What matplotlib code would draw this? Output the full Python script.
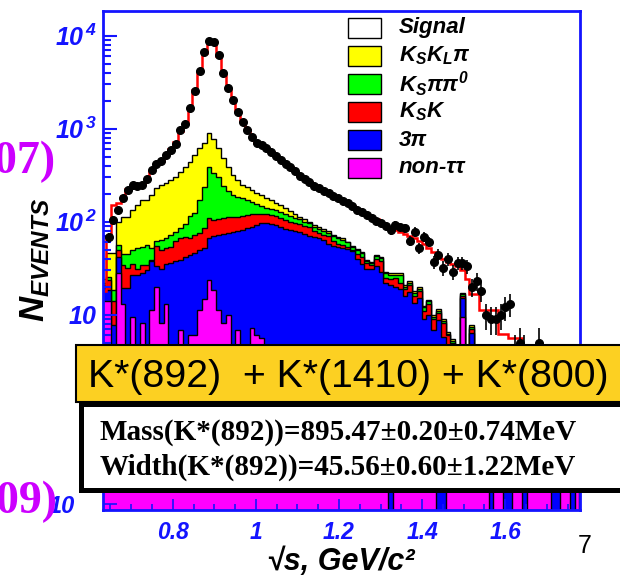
import matplotlib
matplotlib.use("Agg")
import matplotlib.pyplot as plt
import numpy as np
from matplotlib.patches import Rectangle
from matplotlib.ticker import LogLocator, MultipleLocator, NullFormatter, NullLocator

W, H = 620, 579

# histogram binning (GeV)
BIN_LO = 0.6285
BIN_W = 0.0115
N_BINS = 100

# data points (events per bin)
data = [
    0, 68, 104, 134, 181, 219, 248, 244, 248, 286,
    360, 417, 450, 521, 590, 680, 968, 1115, 1656, 2562,
    4170, 6730, 8830, 8490, 6200, 4000, 2720, 2036, 1525, 1190,
    970, 820, 706, 670, 620, 560, 505, 460, 420, 390,
    350, 310, 290, 270, 245, 228, 215, 202, 190, 178,
    168, 158, 146, 135, 126, 118, 110, 103, 97, 90,
    81, 92, 88, 85, 62, 78, 52, 69, 61, 37,
    44, 32, 40, 29, 36, 36, 33, 20, 23, 18,
    10, 9, 9, 10, 12, 13, 4, 5, 4, 3,
    2, 5, 2, 1, 2, 3, 3, 1, 1, 1,
]

# total MC (signal + backgrounds), red line
mc_total = [
    18, 70, 150, 158, 190, 225, 240, 245, 255, 290,
    350, 415, 455, 520, 600, 720, 950, 1150, 1700, 2600,
    4100, 6500, 8700, 8600, 6100, 3900, 2700, 2050, 1550, 1200,
    980, 830, 710, 670, 620, 565, 515, 470, 425, 390,
    350, 315, 292, 270, 250, 232, 217, 204, 191, 179,
    168, 158, 148, 137, 128, 120, 113, 106, 99, 92,
    86, 82, 78, 74, 70, 66, 62, 58, 52, 47,
    43, 40, 37, 35, 33, 30, 24, 16.5, 16.5, 11.3,
    11.3, 11.3, 11.3, 6.2, 6.2, 5.6, 5.6, 5.6, 4.5, 4,
    3.5, 3.2, 3, 2.8, 2.7, 2.6, 2.5, 2.5, 2.5, 2.5,
]

# cumulative background stack levels (top of each colour)
lvl_kskl = [
    24, 46, 46, 100, 113, 113, 134, 151, 171, 171,
    194, 228, 248, 259, 281, 305, 345, 391, 443, 521,
    615, 697, 891, 780, 620, 480, 390, 320, 280, 250,
    235, 220, 205, 194, 180, 170, 160, 150, 140, 130,
    120, 112, 106, 100, 92, 87, 83, 79, 72, 68,
    66, 61, 55, 51, 47, 39, 37, 44, 42, 29,
    28, 28, 28, 21, 23, 18, 20, 12.5, 14.5, 10,
    11.5, 9, 6.5, 5.5, 4.5, 17, 4.5, 7.8, 4.5, 2.4,
    2.4, 2.4, 2.4, 2.4, 2.4, 2.4, 2.4, 2.4, 2.4, 2.4,
    2.4, 2.4, 2.4, 2.4, 2.4, 2.4, 2.4, 2.4, 2.4, 2.4,
]
lvl_kspipi0 = [
    22, 25.6, 18.4, 56, 45, 45, 50, 52, 54, 56,
    52, 62, 64, 66, 72, 78, 85, 95, 115, 125,
    170, 238, 390, 330, 300, 245, 215, 195, 186, 178,
    170, 162, 155, 148, 142, 138, 132, 126, 120, 114,
    110, 106, 100, 96, 88, 84, 80, 76, 70, 66,
    64, 60, 54, 50, 46, 38, 36, 43, 41, 28,
    27, 27, 27, 20, 22, 17, 19, 12, 14, 9.5,
    11, 8.5, 6.2, 5.2, 4.2, 16.5, 4.2, 7.4, 4.2, 2.2,
    2.2, 2.2, 2.2, 2.2, 2.2, 2.2, 2.2, 2.2, 2.2, 2.2,
    2.2, 2.2, 2.2, 2.2, 2.2, 2.2, 2.2, 2.2, 2.2, 2.2,
]
lvl_ksk = [
    21, 23.5, 14, 50, 34, 32, 35, 31, 34, 34,
    39, 55, 50, 52, 54, 62, 66, 68, 66, 72,
    75, 85, 109, 104, 108, 110, 112, 113, 113, 116,
    118, 120, 122, 122, 120, 118, 114, 110, 104, 100,
    98, 94, 90, 88, 80, 75, 72, 70, 62, 58,
    56, 54, 50, 45, 42, 36, 34, 40, 38, 25,
    24, 25, 22, 19, 21, 16, 18, 11, 13, 9,
    10.5, 8.2, 6, 5, 4, 16, 4, 7, 4, 2.0,
    2.0, 2.0, 2.0, 2.0, 2.0, 2.0, 2.0, 2.0, 2.0, 2.0,
    2.0, 2.0, 2.0, 2.0, 2.0, 2.0, 2.0, 2.0, 2.0, 2.0,
]
lvl_3pi = [
    19.5, 18.4, 7.8, 42, 19.5, 19.5, 27, 27, 28, 30,
    38, 33, 31, 35, 36, 38, 39, 42, 44, 46,
    50, 52, 67, 70, 72, 74, 76, 78, 80, 82,
    85, 88, 92, 96, 96, 95, 92, 88, 84, 82,
    80, 77, 74, 70, 68, 66, 64, 57, 55, 54,
    52, 51, 48, 40, 35, 31, 31, 33, 29, 22,
    21, 20, 19, 16, 17.7, 13.5, 15, 9, 10, 6.9,
    8.8, 5.8, 4.5, 4, 3, 15, 3, 6.3, 3, 1.8,
    1.8, 1.8, 1.8, 1.8, 1.8, 1.8, 1.8, 1.8, 1.8, 1.8,
    1.8, 1.8, 1.8, 1.8, 1.8, 1.8, 1.8, 1.8, 1.8, 1.8,
]
lvl_nontt = [
    13.9, 13.9, 3, 28, 13, 3, 9.5, 3, 8.2, 3,
    11.2, 20, 8.2, 13, 3, 3, 6.9, 3, 6.1, 6.1,
    11.2, 14.8, 23.5, 18.4, 11.2, 8.2, 10, 3, 6.9, 3,
    3, 7.2, 6, 5.6, 2, 2, 2, 2, 2, 2,
    2, 2, 2, 2, 2, 2, 2, 2, 2, 2,
    2, 2, 2, 2, 2, 2, 2, 2, 2, 2,
    2, 2, 2, 2, 2, 2, 2, 2, 2, 2,
    2, 2, 2, 2, 2, 9.5, 2, 2, 2, 1,
    1, 1, 1, 1, 1, 1, 1, 1, 1, 1,
    1, 1, 1, 1, 1, 1, 1, 1, 1, 1,
]

# lower (2009) panel, only its bottom strip is visible
lower_3pi = [
    30, 32, 35, 38, 40, 42, 45, 47, 50, 52,
    55, 57, 60, 62, 64, 66, 68, 70, 72, 74,
    76, 78, 80, 82, 84, 85, 86, 87, 88, 89,
    90, 90, 91, 91, 90, 90, 89, 88, 87, 86,
    85, 84, 82, 80, 78, 76, 74, 72, 70, 68,
    66, 64, 62, 60, 58, 56, 54, 52, 50, 48,
    46, 44, 42, 40, 38, 36, 35, 34, 33, 32,
    31, 30, 29, 28, 27, 26, 25, 24, 23, 22,
    22, 21, 21, 20, 20, 19, 19, 18, 18, 18,
    17, 17, 17, 16, 16, 16, 16, 16, 16, 16,
]
lower_nontt = [
    25, 28, 30, 27, 26, 25, 24, 26, 28, 30,
    32, 30, 28, 27, 26, 29, 31, 33, 30, 28,
    27, 26, 25, 24, 23, 22, 22, 21, 21, 20,
    20, 20, 19, 19, 19, 18, 18, 18, 18, 17,
    17, 17, 17, 17, 16, 16, 16, 16, 16, 16,
    16, 16, 16, 16, 16, 16, 16, 16, 16, 16,
    5, 16, 16, 16, 16, 16, 16, 16, 16, 16,
    5, 5, 16, 16, 16, 16, 16, 16, 16, 16,
    16, 5, 16, 16, 5, 5, 16, 16, 5, 16,
    16, 16, 16, 16, 5, 5, 16, 16, 5, 16,
]

legend_labels = ["Signal", r"$K_SK_L\pi$", r"$K_S\pi\pi^0$", r"$K_SK$", "3π", "non-ττ"]

YELLOW, GREEN, RED, BLUE, MAGENTA = "#ffff00", "#00ff00", "#ff0000", "#0000ff", "#ff00ff"
FRAME = "#1414ff"
legend_colors = ["white", YELLOW, GREEN, RED, BLUE, MAGENTA]

plt.rcParams["font.family"] = ["Liberation Sans", "DejaVu Sans"]
plt.rcParams["mathtext.fontset"] = "custom"
for key in ("rm", "it", "bf", "sf"):
    plt.rcParams[f"mathtext.{key}"] = "Liberation Sans:italic:bold"


def fx(x):
    return x / W


def fy(y):
    return 1 - y / H


def px_rect(x0, y0, w, h, **kw):
    return Rectangle((fx(x0), fy(y0 + h)), w / W, h / H, transform=fig.transFigure, **kw)


edges = BIN_LO + BIN_W * np.arange(N_BINS + 1)
centers = 0.5 * (edges[:-1] + edges[1:])

fig = plt.figure(figsize=(W / 100, H / 100), dpi=100)

# --- main (2007) panel ---
ax = fig.add_axes([fx(103), fy(400), 477 / W, 389 / H])
ax.set_yscale("log")
ax.set_xlim(0.632, 1.78)
ax.set_ylim(1.21, 18440)

for vals, col in [(lvl_kskl, YELLOW), (lvl_kspipi0, GREEN), (lvl_ksk, RED),
                  (lvl_3pi, BLUE), (lvl_nontt, MAGENTA)]:
    ax.stairs(vals, edges, baseline=0.5, fill=True, facecolor=col,
              edgecolor="black", linewidth=1.0)
ax.stairs(mc_total, edges, baseline=0.5, color="red", linewidth=1.8)

counts = np.array(data, dtype=float)
mask = counts > 0
ax.errorbar(centers[mask], counts[mask], yerr=np.sqrt(counts[mask]), fmt="o",
            color="black", ms=5.5, elinewidth=1.2, capsize=0, zorder=5)

for sp in ax.spines.values():
    sp.set_color(FRAME)
    sp.set_linewidth(2)
ax.tick_params(axis="x", which="both", bottom=False, labelbottom=False)
ax.set_yticks([10, 100, 1000, 10000],
              labels=[r"$10$", r"$10^{\,2}$", r"$10^{\,3}$", r"$10^{\,4}$"])
ax.yaxis.set_minor_locator(LogLocator(base=10, subs=np.arange(2, 10)))
ax.yaxis.set_minor_formatter(NullFormatter())
ax.tick_params(axis="y", which="both", direction="in", colors=FRAME, width=1.5,
               labelsize=18, pad=4)
ax.tick_params(axis="y", which="major", length=10)
ax.tick_params(axis="y", which="minor", length=6)

# legend
for k, (lab, col) in enumerate(zip(legend_labels, legend_colors)):
    top = 18 + 28 * k
    fig.add_artist(px_rect(348, top, 33, 20, facecolor=col, edgecolor="black",
                           linewidth=1.0, zorder=5))
    fig.text(fx(399), fy(top + 10), lab, fontsize=16, fontweight="bold",
             fontstyle="italic", ha="left", va="center", zorder=5)

# --- lower (2009) panel strip ---
ax2 = fig.add_axes([fx(103), fy(510), 477 / W, 20 / H])
ax2.set_yscale("log")
ax2.set_xlim(0.632, 1.78)
ax2.set_ylim(8.6, 14.1)
ax2.stairs(lower_3pi, edges, baseline=1, fill=True, facecolor=BLUE,
           edgecolor="black", linewidth=1.0)
ax2.stairs(lower_nontt, edges, baseline=1, fill=True, facecolor=MAGENTA,
           edgecolor="black", linewidth=1.0)
for sp in ax2.spines.values():
    sp.set_color(FRAME)
    sp.set_linewidth(2)
ax2.xaxis.set_major_locator(MultipleLocator(0.2))
ax2.xaxis.set_minor_locator(MultipleLocator(0.05))
ax2.set_xticks([0.8, 1.0, 1.2, 1.4, 1.6], labels=["0.8", "1", "1.2", "1.4", "1.6"],
               fontsize=16.5, fontweight="bold", fontstyle="italic")
ax2.tick_params(axis="x", which="both", direction="in", colors=FRAME, width=1.2, pad=8)
ax2.tick_params(axis="x", which="major", length=8)
ax2.tick_params(axis="x", which="minor", length=4)
ax2.set_yticks([10], labels=["10"], fontsize=17, fontweight="bold", fontstyle="italic")
ax2.yaxis.set_minor_locator(NullLocator())
ax2.tick_params(axis="y", direction="in", colors=FRAME, length=10, width=1.2, pad=20)

# --- axis titles ---
fig.text(fx(35), fy(260), r"$N_{EVENTS}$", rotation=90, fontsize=25,
         ha="center", va="center")
fig.text(fx(341), fy(570), "√s, GeV/c²", fontsize=22, fontweight="bold",
         fontstyle="italic", ha="center", va="baseline")

# --- slide overlays ---
fig.text(fx(55), fy(173), "(2007)", fontsize=33, family="Liberation Serif",
         fontweight="bold", color="#cc00ff", ha="right", va="baseline", zorder=3)
fig.text(fx(57), fy(513), "(2009)", fontsize=33, family="Liberation Serif",
         fontweight="bold", color="#cc00ff", ha="right", va="baseline", zorder=3)

fig.add_artist(px_rect(76, 345, 570, 57, facecolor="#fcd022", edgecolor="black",
                       linewidth=1.5, zorder=10))
fig.text(fx(88), fy(387), "K*(892)  + K*(1410) + K*(800)", fontsize=28.3,
         ha="left", va="baseline", zorder=12)

fig.add_artist(px_rect(80.5, 403.5, 570, 86, facecolor="white", edgecolor="black",
                       linewidth=3.6, zorder=11))
fig.text(fx(100), fy(440), "Mass(K*(892))=895.47±0.20±0.74MeV", fontsize=21,
         family="Liberation Serif", fontweight="bold", ha="left", va="baseline", zorder=12)
fig.text(fx(100), fy(475), "Width(K*(892))=45.56±0.60±1.22MeV", fontsize=21,
         family="Liberation Serif", fontweight="bold", ha="left", va="baseline", zorder=12)

fig.text(fx(592), fy(553), "7", fontsize=18, ha="right", va="baseline")

fig.savefig("out.png", dpi=100)
